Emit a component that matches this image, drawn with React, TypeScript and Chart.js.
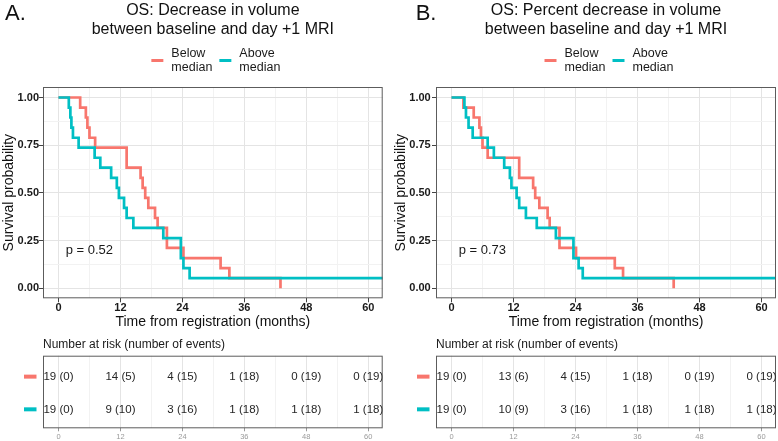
import React, { useEffect, useRef } from 'react';
import { Chart, registerables } from 'chart.js';

Chart.register(...registerables);

const FONT = '"Liberation Sans", Arial, Helvetica, sans-serif';
Chart.defaults.font.family = FONT;

const RED = '#F8766D';
const CYAN = '#00BFC4';

// ---- shared axis data ----
const xTicks = [0, 12, 24, 36, 48, 60];
const yTicks = [0, 0.25, 0.5, 0.75, 1];
const riskMonths = [0, 12, 24, 36, 48, 60];
const belowLegend = ['Below', 'median'];
const aboveLegend = ['Above', 'median'];
const xAxisTitle = 'Time from registration (months)';
const yAxisTitle = 'Survival probability';
const riskTitle = 'Number at risk (number of events)';

// ---- Panel A ----
const aLetter = 'A.';
const aTitle = ['OS: Decrease in volume', 'between baseline and day +1 MRI'];
const aPValue = 'p = 0.52';
const aBelowTimes = [0, 4.2, 5.3, 5.6, 6.0, 7.1, 13.2, 15.9, 16.3, 16.8, 17.4, 18.7, 19.2, 21.0, 24.2, 31.4, 33.1, 43.0];
const aBelowSurv = [1, 0.947, 0.895, 0.842, 0.789, 0.737, 0.632, 0.579, 0.526, 0.474, 0.421, 0.368, 0.316, 0.211, 0.158, 0.105, 0.053, 0];
const aAboveTimes = [0, 2.0, 2.3, 2.5, 2.8, 3.9, 7.0, 8.1, 10.2, 11.3, 11.7, 12.7, 13.2, 14.5, 20.3, 23.7, 24.2, 25.4, 64];
const aAboveSurv = [1, 0.947, 0.895, 0.842, 0.789, 0.737, 0.684, 0.632, 0.579, 0.526, 0.474, 0.421, 0.368, 0.316, 0.263, 0.158, 0.105, 0.053, 0.053];
const aBelowAtRisk = [19, 14, 4, 1, 0, 0];
const aBelowEvents = [0, 5, 15, 18, 19, 19];
const aAboveAtRisk = [19, 9, 3, 1, 1, 1];
const aAboveEvents = [0, 10, 16, 18, 18, 18];

// ---- Panel B ----
const bLetter = 'B.';
const bTitle = ['OS: Percent decrease in volume', 'between baseline and day +1 MRI'];
const bPValue = 'p = 0.73';
const bBelowTimes = [0, 2.3, 4.3, 5.4, 5.7, 6.0, 7.0, 13.1, 15.8, 16.2, 17.0, 18.6, 19.0, 20.9, 24.1, 31.6, 33.2, 43.0];
const bBelowSurv = [1, 0.947, 0.895, 0.842, 0.789, 0.737, 0.684, 0.579, 0.526, 0.474, 0.421, 0.368, 0.316, 0.211, 0.158, 0.105, 0.053, 0];
const bAboveTimes = [0, 2.5, 2.8, 3.3, 4.1, 7.0, 8.2, 10.2, 11.3, 11.6, 12.6, 13.1, 14.4, 16.5, 20.2, 23.6, 24.6, 25.4, 64];
const bAboveSurv = [1, 0.947, 0.895, 0.842, 0.789, 0.737, 0.684, 0.632, 0.579, 0.526, 0.474, 0.421, 0.368, 0.316, 0.263, 0.158, 0.105, 0.053, 0.053];
const bBelowAtRisk = [19, 13, 4, 1, 0, 0];
const bBelowEvents = [0, 6, 15, 18, 19, 19];
const bAboveAtRisk = [19, 10, 3, 1, 1, 1];
const bAboveEvents = [0, 9, 16, 18, 18, 18];

// ---- helpers ----
const X_MIN = -3;
const X_MAX = 62.8;
const Y_MIN = -0.053;
const Y_MAX = 1.055;

function withMinor(major: number[]): number[] {
  const out: number[] = [];
  for (let i = 0; i < major.length; i++) {
    out.push(major[i]);
    if (i < major.length - 1) out.push((major[i] + major[i + 1]) / 2);
  }
  return out;
}
const xGrid = withMinor(xTicks);
const yGrid = withMinor(yTicks);
const isIn = (arr: number[], v: number) => arr.some((m) => Math.abs(m - v) < 1e-6);

const MAJOR_GRID = '#e4e4e4';
const MINOR_GRID = '#f2f2f2';

function xScaleOpts(kind: 'km' | 'risk') {
  const km = kind === 'km';
  return {
    type: 'linear',
    min: X_MIN,
    max: X_MAX,
    afterBuildTicks: (s: any) => {
      s.ticks = xGrid.map((v) => ({ value: v }));
    },
    afterFit: (s: any) => {
      s.height = km ? 33.7 : 12.7;
    },
    ticks: {
      autoSkip: false,
      maxRotation: 0,
      minRotation: 0,
      padding: km ? -1 : 1,
      color: km ? '#1a1a1a' : '#9a9a9a',
      font: km ? { size: 11, weight: 'bold' } : { size: 7.5 },
      callback: (v: number) => (isIn(xTicks, v) ? String(v) : ''),
    },
    grid: {
      color: (c: any) => (isIn(xTicks, c.tick.value) ? MAJOR_GRID : MINOR_GRID),
      tickColor: (c: any) => (isIn(xTicks, c.tick.value) ? (km ? '#444' : '#999') : 'rgba(0,0,0,0)'),
      tickLength: km ? 4 : 3,
      lineWidth: 1,
    },
    border: { display: false },
    title: km
      ? { display: true, text: xAxisTitle, color: '#111', font: { size: 14 }, padding: { top: 0, bottom: 1.6 } }
      : { display: false },
  };
}

interface PanelSpec {
  letter: string;
  letterX: number;
  title: string[];
  pval: string;
  yAxisWidth: number;
  yTitlePad: number;
  yTickPad: number;
  padRight: number;
  belowTimes: number[];
  belowSurv: number[];
  aboveTimes: number[];
  aboveSurv: number[];
  belowAtRisk: number[];
  belowEvents: number[];
  aboveAtRisk: number[];
  aboveEvents: number[];
}

function makeKmDecor(p: PanelSpec) {
  return {
    id: 'kmDecor',
    afterDraw(chart: any) {
      const { ctx, chartArea: ca, scales } = chart;
      ctx.save();
      // panel border
      ctx.strokeStyle = '#5c5c5c';
      ctx.lineWidth = 1;
      ctx.strokeRect(ca.left + 0.5, ca.top + 0.5, ca.right - ca.left - 1, ca.bottom - ca.top - 1);

      // p-value
      ctx.fillStyle = '#1a1a1a';
      ctx.font = `13px ${FONT}`;
      ctx.textAlign = 'left';
      ctx.textBaseline = 'middle';
      ctx.fillText(p.pval, scales.x.getPixelForValue(1.4), scales.y.getPixelForValue(0.2));

      // panel letter
      ctx.fillStyle = '#111';
      ctx.font = `22px ${FONT}`;
      ctx.fillText(p.letter, p.letterX, 13.5);

      // title
      const cx = (ca.left + ca.right) / 2;
      ctx.font = `16px ${FONT}`;
      ctx.textAlign = 'center';
      ctx.fillText(p.title[0], cx, 10.5);
      ctx.fillText(p.title[1], cx, 29.5);

      // legend
      ctx.font = `12.5px ${FONT}`;
      const w1 = Math.max(ctx.measureText(belowLegend[0]).width, ctx.measureText(belowLegend[1]).width);
      const w2 = Math.max(ctx.measureText(aboveLegend[0]).width, ctx.measureText(aboveLegend[1]).width);
      const sw = 12;
      const gap = 8;
      const between = 7;
      const total = 2 * (sw + gap) + w1 + w2 + between;
      let x = cx + 3 - total / 2;
      const items = [
        { color: RED, lines: belowLegend, w: w1 },
        { color: CYAN, lines: aboveLegend, w: w2 },
      ];
      ctx.textAlign = 'left';
      for (const it of items) {
        ctx.strokeStyle = it.color;
        ctx.lineWidth = 3;
        ctx.beginPath();
        ctx.moveTo(x, 60.5);
        ctx.lineTo(x + sw, 60.5);
        ctx.stroke();
        ctx.fillStyle = '#1a1a1a';
        ctx.fillText(it.lines[0], x + sw + gap, 54);
        ctx.fillText(it.lines[1], x + sw + gap, 67.5);
        x += sw + gap + it.w + between;
      }
      ctx.restore();
    },
  };
}

function makeRiskDecor() {
  return {
    id: 'riskDecor',
    afterDatasetsDraw(chart: any) {
      const { ctx, chartArea: ca } = chart;
      ctx.save();
      ctx.strokeStyle = '#5c5c5c';
      ctx.lineWidth = 1;
      ctx.strokeRect(ca.left + 0.5, ca.top + 0.5, ca.right - ca.left - 1, ca.bottom - ca.top - 1);

      ctx.fillStyle = '#1a1a1a';
      ctx.font = `12px ${FONT}`;
      ctx.textAlign = 'left';
      ctx.textBaseline = 'middle';
      ctx.fillText(riskTitle, ca.left, ca.top - 10.7);

      chart.data.datasets.forEach((ds: any, i: number) => {
        const meta = chart.getDatasetMeta(i);
        if (!meta.data.length) return;
        const y = meta.data[0].y;
        ctx.strokeStyle = ds.rowColor;
        ctx.lineWidth = 4;
        ctx.beginPath();
        ctx.moveTo(ca.left - 19, y);
        ctx.lineTo(ca.left - 6.5, y);
        ctx.stroke();
      });

      ctx.save();
      ctx.beginPath();
      ctx.rect(ca.left, ca.top, ca.right - ca.left, ca.bottom - ca.top);
      ctx.clip();
      ctx.fillStyle = '#262626';
      ctx.font = `11.5px ${FONT}`;
      ctx.textAlign = 'center';
      chart.data.datasets.forEach((ds: any, i: number) => {
        const meta = chart.getDatasetMeta(i);
        meta.data.forEach((pt: any, j: number) => {
          ctx.fillText(`${ds.atRisk[j]} (${ds.events[j]})`, pt.x, pt.y);
        });
      });
      ctx.restore();
      ctx.restore();
    },
  };
}

function kmConfig(p: PanelSpec): any {
  return {
    type: 'line',
    data: {
      datasets: [
        {
          label: 'Above median',
          data: p.aboveTimes.map((t, i) => ({ x: t, y: p.aboveSurv[i] })),
          borderColor: CYAN,
          backgroundColor: CYAN,
          borderWidth: 2.7,
          stepped: true,
          pointRadius: 0,
          fill: false,
          borderJoinStyle: 'miter',
        },
        {
          label: 'Below median',
          data: p.belowTimes.map((t, i) => ({ x: t, y: p.belowSurv[i] })),
          borderColor: RED,
          backgroundColor: RED,
          borderWidth: 2.7,
          stepped: true,
          pointRadius: 0,
          fill: false,
          borderJoinStyle: 'miter',
        },
      ],
    },
    options: {
      responsive: false,
      animation: false,
      events: [],
      layout: { padding: { top: 87, right: p.padRight, left: 0, bottom: 0 } },
      plugins: { legend: { display: false }, tooltip: { enabled: false }, title: { display: false } },
      scales: {
        x: xScaleOpts('km'),
        y: {
          type: 'linear',
          min: Y_MIN,
          max: Y_MAX,
          afterBuildTicks: (s: any) => {
            s.ticks = yGrid.map((v) => ({ value: v }));
          },
          afterFit: (s: any) => {
            s.width = p.yAxisWidth;
          },
          ticks: {
            autoSkip: false,
            padding: p.yTickPad,
            color: '#1a1a1a',
            font: { size: 11, weight: 'bold' },
            callback: (v: number) => (isIn(yTicks, v) ? v.toFixed(2) : ''),
          },
          grid: {
            color: (c: any) => (isIn(yTicks, c.tick.value) ? MAJOR_GRID : MINOR_GRID),
            tickColor: (c: any) => (isIn(yTicks, c.tick.value) ? '#444' : 'rgba(0,0,0,0)'),
            tickLength: 4,
            lineWidth: 1,
          },
          border: { display: false },
          title: {
            display: true,
            text: yAxisTitle,
            color: '#111',
            font: { size: 14 },
            padding: { top: p.yTitlePad, bottom: 0 },
          },
        },
      },
    },
    plugins: [makeKmDecor(p)],
  };
}

function riskConfig(p: PanelSpec): any {
  return {
    type: 'scatter',
    data: {
      datasets: [
        {
          label: 'Below median',
          data: riskMonths.map((m) => ({ x: m, y: 2 })),
          atRisk: p.belowAtRisk,
          events: p.belowEvents,
          rowColor: RED,
          pointRadius: 0,
        },
        {
          label: 'Above median',
          data: riskMonths.map((m) => ({ x: m, y: 1 })),
          atRisk: p.aboveAtRisk,
          events: p.aboveEvents,
          rowColor: CYAN,
          pointRadius: 0,
        },
      ],
    },
    options: {
      responsive: false,
      animation: false,
      events: [],
      layout: { padding: { top: 20.7, right: p.padRight, left: 0, bottom: 0 } },
      plugins: { legend: { display: false }, tooltip: { enabled: false }, title: { display: false } },
      scales: {
        x: xScaleOpts('risk'),
        y: {
          type: 'linear',
          min: 0.42,
          max: 2.64,
          afterBuildTicks: (s: any) => {
            s.ticks = [];
          },
          afterFit: (s: any) => {
            s.width = p.yAxisWidth;
          },
          ticks: { display: false },
          grid: { display: false },
          border: { display: false },
        },
      },
    },
    plugins: [makeRiskDecor()],
  };
}

const panelA: PanelSpec = {
  letter: aLetter,
  letterX: 5,
  title: aTitle,
  pval: aPValue,
  yAxisWidth: 43,
  yTitlePad: 1,
  yTickPad: 0,
  padRight: 7.3,
  belowTimes: aBelowTimes,
  belowSurv: aBelowSurv,
  aboveTimes: aAboveTimes,
  aboveSurv: aAboveSurv,
  belowAtRisk: aBelowAtRisk,
  belowEvents: aBelowEvents,
  aboveAtRisk: aAboveAtRisk,
  aboveEvents: aAboveEvents,
};

const panelB: PanelSpec = {
  letter: bLetter,
  letterX: 26.7,
  title: bTitle,
  pval: bPValue,
  yAxisWidth: 47,
  yTitlePad: 4,
  yTickPad: 1.3,
  padRight: 2,
  belowTimes: bBelowTimes,
  belowSurv: bBelowSurv,
  aboveTimes: bAboveTimes,
  aboveSurv: bAboveSurv,
  belowAtRisk: bBelowAtRisk,
  belowEvents: bBelowEvents,
  aboveAtRisk: bAboveAtRisk,
  aboveEvents: bAboveEvents,
};

export default function App() {
  const kmA = useRef<HTMLCanvasElement>(null);
  const kmB = useRef<HTMLCanvasElement>(null);
  const rkA = useRef<HTMLCanvasElement>(null);
  const rkB = useRef<HTMLCanvasElement>(null);

  useEffect(() => {
    const charts: Chart[] = [];
    if (kmA.current) charts.push(new Chart(kmA.current, kmConfig(panelA)));
    if (kmB.current) charts.push(new Chart(kmB.current, kmConfig(panelB)));
    if (rkA.current) charts.push(new Chart(rkA.current, riskConfig(panelA)));
    if (rkB.current) charts.push(new Chart(rkB.current, riskConfig(panelB)));
    return () => charts.forEach((c) => c.destroy());
  }, []);

  const cv = (left: number, top: number, w: number, h: number): React.CSSProperties => ({
    position: 'absolute',
    left,
    top,
    width: w,
    height: h,
  });

  return (
    <div style={{ position: 'fixed', left: 0, top: 0, width: 778, height: 441, background: '#ffffff', overflow: 'hidden' }}>
      <canvas ref={kmA} width={390} height={332} style={cv(0, 0, 390, 332)} />
      <canvas ref={kmB} width={389} height={332} style={cv(389, 0, 389, 332)} />
      <canvas ref={rkA} width={390} height={106} style={cv(0, 335, 390, 106)} />
      <canvas ref={rkB} width={389} height={106} style={cv(389, 335, 389, 106)} />
    </div>
  );
}
